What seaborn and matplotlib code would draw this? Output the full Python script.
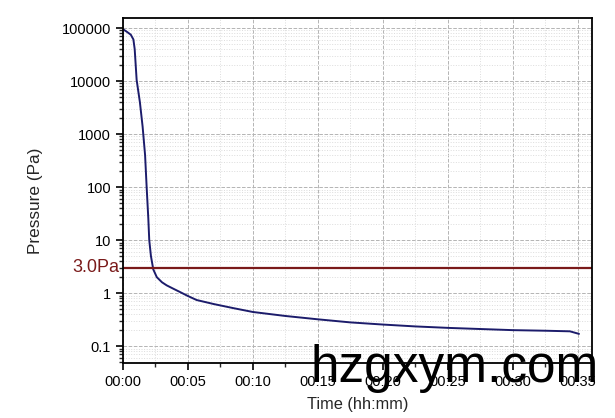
import numpy as np
import pandas as pd
import matplotlib.pyplot as plt
import matplotlib.ticker as mticker
import seaborn as sns

# Pump-down curve (time in minutes, pressure in Pa)
time_min = [0.0, 0.3, 0.6, 0.8, 0.9, 1.05, 1.3, 1.51, 1.7, 1.82, 1.95, 2.02, 2.15, 2.33,
            2.6, 3.0, 3.36, 3.9, 4.38, 5.0, 5.67, 7.0, 8.5, 10.0, 12.5, 15.0, 17.5,
            20.0, 22.5, 25.15, 27.5, 30.0, 32.5, 34.4, 35.1]
pressure_pa = [95000, 85000, 75000, 61000, 40000, 10500, 4000, 1380, 400, 100, 25, 10, 5, 2.8,
               2.0, 1.6, 1.4, 1.2, 1.05, 0.88, 0.74, 0.62, 0.52, 0.44, 0.37, 0.32, 0.28,
               0.255, 0.235, 0.22, 0.21, 0.20, 0.195, 0.19, 0.17]
limit_pa = 3.0
x_ticks = [0, 5, 10, 15, 20, 25, 30, 35]
x_labels = ["00:00", "00:05", "00:10", "00:15", "00:20", "00:25", "00:30", "00:35"]
y_ticks = [0.1, 1, 10, 100, 1000, 10000, 100000]
y_labels = ["0.1", "1", "10", "100", "1000", "10000", "100000"]

df = pd.DataFrame({"time": time_min, "pressure": pressure_pa})

sns.set_theme(style="white")
plt.rcParams["font.family"] = ["Liberation Sans", "DejaVu Sans"]

fig = plt.figure(figsize=(6.15, 4.18), dpi=100)
ax = fig.add_axes([0.2, 0.1316, 0.7626, 0.8254])

sns.lineplot(data=df, x="time", y="pressure", color="#1c1c6b", linewidth=1.4, ax=ax)
ax.axhline(limit_pa, color="#7a1a1a", linewidth=1.6)

ax.set_yscale("log")
ax.set_xlim(0, 36.1)
ax.set_ylim(0.048, 155000)

ax.set_xticks(x_ticks)
ax.set_xticklabels(x_labels)
ax.xaxis.set_minor_locator(mticker.MultipleLocator(2.5))
ax.set_yticks(y_ticks)
ax.set_yticklabels(y_labels)
ax.yaxis.set_minor_locator(mticker.LogLocator(base=10, subs=np.arange(2, 10), numticks=20))
ax.yaxis.set_minor_formatter(mticker.NullFormatter())

ax.tick_params(axis="both", which="major", direction="out", length=5, width=1.2,
               labelsize=10.5, colors="black", left=True, bottom=True)
ax.tick_params(axis="both", which="minor", direction="out", length=3, width=1,
               left=True, bottom=True)

ax.grid(True, which="major", color="#b4b4b4", linestyle="--", linewidth=0.7)
ax.grid(True, which="minor", color="#dcdcdc", linestyle=":", linewidth=0.7)
ax.set_axisbelow(True)

for side in ax.spines.values():
    side.set_color("black")
    side.set_linewidth(1.3)

ax.set_xlabel("Time (hh:mm)", fontsize=11.8, labelpad=6)
ax.set_ylabel("Pressure (Pa)", fontsize=12.4)
ax.yaxis.set_label_coords(-0.17, 0.47)

ax.text(-0.008, limit_pa, "3.0Pa", color="#7a1a1a", fontsize=13,
        transform=ax.get_yaxis_transform(), ha="right", va="center")

fig.text(0.505, 0.06, "hzgxym.com", fontsize=37, color="black", ha="left", va="bottom")

fig.savefig("out.png", dpi=100)
